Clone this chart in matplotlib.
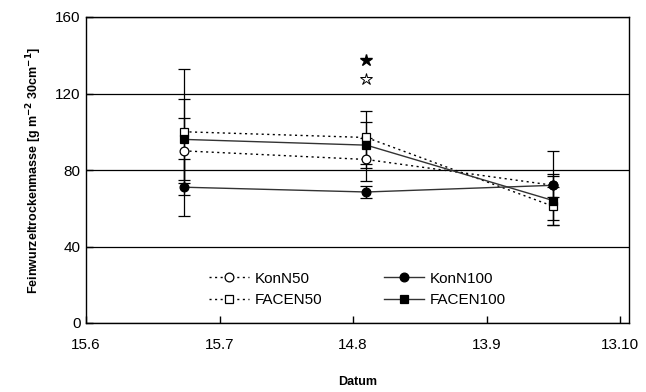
import matplotlib
matplotlib.use("Agg")
import matplotlib.pyplot as plt

plt.rcParams['font.family'] = ['Liberation Sans', 'DejaVu Sans']

# x positions in days after 15 June
days = [22, 63, 105]
tick_days = [0, 30, 60, 90, 120]
tick_labels = ["15.6", "15.7", "14.8", "13.9", "13.10"]

konN50 = [90, 85.5, 72]
konN50_err = [17, 11, 18]
konN100 = [71, 68.5, 72]
konN100_err = [15, 3, 6]
facen50 = [100, 97, 61]
facen50_err = [33, 14, 10]
facen100 = [96, 93, 64]
facen100_err = [21, 12, 13]

star_day = 63
star_filled = 137.5
star_open = 127.5

fig = plt.figure(figsize=(6.46, 3.92), dpi=100)
ax = fig.add_axes([86/646, 1-323/392, (629-86)/646, (323-17)/392])

series = [
    ("KonN50", konN50, konN50_err, 'o', 'white', (0, (1.5, 2.5)), 'black'),
    ("FACEN50", facen50, facen50_err, 's', 'white', (0, (1.5, 2.5)), 'black'),
    ("KonN100", konN100, konN100_err, 'o', 'black', '-', '#333333'),
    ("FACEN100", facen100, facen100_err, 's', 'black', '-', '#333333'),
]

for name, vals, errs, mk, fc, ls, lc in series:
    ax.errorbar(days, vals, yerr=errs, fmt='none', ecolor='black',
                elinewidth=0.9, capsize=4, capthick=0.9, zorder=3)
for name, vals, errs, mk, fc, ls, lc in series:
    ax.plot(days, vals, linestyle=ls, color=lc, linewidth=1.0,
            marker=mk, markersize=6.3, markerfacecolor=fc,
            markeredgecolor='black', markeredgewidth=0.9, label=name, zorder=4)

ax.plot([star_day], [star_filled], marker='*', markersize=9, color='black',
        linestyle='none', zorder=5)
ax.plot([star_day], [star_open], marker='*', markersize=9, markerfacecolor='white',
        markeredgecolor='black', markeredgewidth=0.7, linestyle='none', zorder=5)

ax.set_xlim(0, 122)
ax.set_ylim(0, 160)
ax.set_xticks(tick_days)
ax.set_xticklabels(tick_labels, fontsize=11)
ax.set_yticks([0, 40, 80, 120, 160])
ax.tick_params(axis='y', labelsize=11, direction='in', length=5, width=1, pad=4)
ax.tick_params(axis='x', direction='in', length=5, width=1, pad=11)
for s in ax.spines.values():
    s.set_linewidth(1.0)
    s.set_color('black')
ax.yaxis.grid(True, color='black', linewidth=0.9)
ax.set_axisbelow(True)

ax.set_xlabel("Datum", fontsize=9, fontweight='bold', labelpad=17)
ax.set_ylabel("Feinwurzeltrockenmasse [g m$^{\\mathbf{-2}}$ 30cm$^{\\mathbf{-1}}$]",
              fontsize=9, fontweight='bold', labelpad=8)

leg = ax.legend(ncol=2, loc='center', bbox_to_anchor=(0.5, 0.11), frameon=False,
                fontsize=11, handlelength=2.6, columnspacing=4.0, handletextpad=0.4,
                labelspacing=0.5)

fig.savefig("out.png", dpi=100)
